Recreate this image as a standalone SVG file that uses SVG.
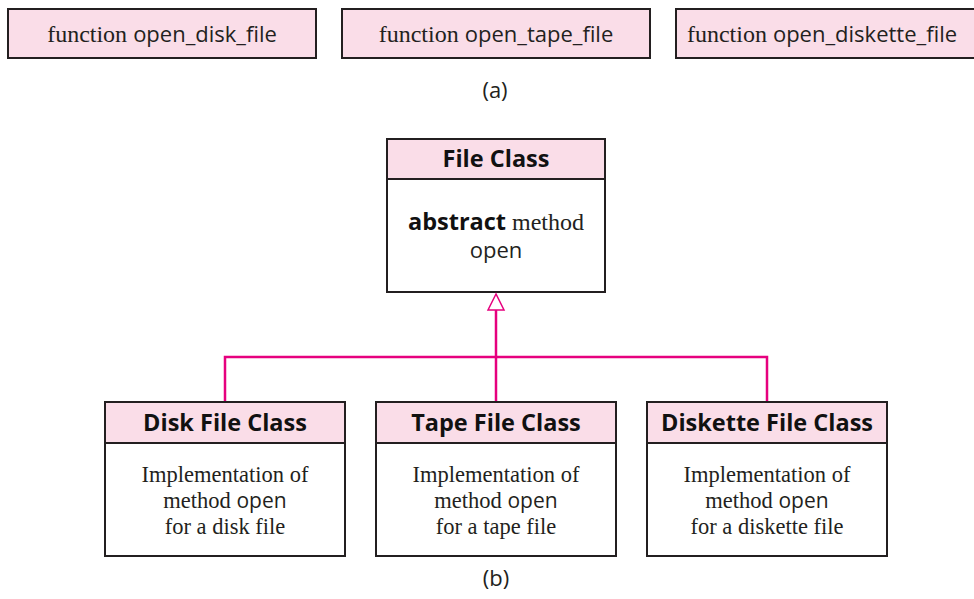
<svg xmlns="http://www.w3.org/2000/svg" width="974" height="599" viewBox="0 0 974 599">
<style>
.box{fill:#fadde8;stroke:#231f20;stroke-width:2}
.body{fill:#fff;stroke:#231f20;stroke-width:2}
.serif{font-family:"Liberation Serif","Times New Roman",serif;font-size:24px;fill:#231f20}
.bserif{font-family:"Liberation Serif","Times New Roman",serif;font-size:22.5px;fill:#231f20}
.sans{font-family:"Open Sans","Liberation Sans",sans-serif;font-size:22px;fill:#231f20}
.bsans{font-family:"Open Sans","Liberation Sans",sans-serif;font-size:21px;fill:#231f20}
.hdr{font-family:"Open Sans","Liberation Sans",sans-serif;font-size:23.5px;font-weight:bold;fill:#111}
.conn{fill:none;stroke:#e6007e;stroke-width:2.5}
</style>
<g id="fn-disk">
<rect class="box" x="8" y="9" width="308" height="49"/>
<text x="162" y="42" text-anchor="middle"><tspan class="serif">function </tspan><tspan class="sans">open_disk_file</tspan></text>
</g>
<g id="fn-tape">
<rect class="box" x="342" y="9" width="308" height="49"/>
<text x="496" y="42" text-anchor="middle"><tspan class="serif">function </tspan><tspan class="sans">open_tape_file</tspan></text>
</g>
<g id="fn-diskette">
<rect class="box" x="676" y="9" width="308" height="49"/>
<text x="822" y="42" text-anchor="middle"><tspan class="serif">function </tspan><tspan class="sans">open_diskette_file</tspan></text>
</g>
<text class="sans" x="495" y="98" text-anchor="middle">(a)</text>
<g id="file-class">
<rect class="body" x="387" y="139" width="218" height="153"/>
<rect class="box" x="387" y="139" width="218" height="40"/>
<text class="hdr" x="496" y="167" text-anchor="middle">File Class</text>
<text x="496" y="230" text-anchor="middle"><tspan class="hdr">abstract</tspan><tspan class="serif"> method</tspan></text>
<text class="sans" x="496" y="258" text-anchor="middle">open</text>
</g>
<g id="connectors">
<polyline class="conn" points="225,402 225,357 767,357 767,402"/>
<line class="conn" x1="496" y1="402" x2="496" y2="309"/>
<polygon points="496,294 488,310 504,310" fill="#fff" stroke="#e6007e" stroke-width="1.5"/>
</g>
<g id="disk-class">
<rect class="body" x="105" y="402" width="240" height="154"/>
<rect class="box" x="105" y="402" width="240" height="41"/>
<text class="hdr" x="225" y="431" text-anchor="middle">Disk File Class</text>
<text class="bserif" x="225" y="482" text-anchor="middle">Implementation of</text>
<text x="225" y="508" text-anchor="middle"><tspan class="bserif">method </tspan><tspan class="bsans">open</tspan></text>
<text class="bserif" x="225" y="534" text-anchor="middle">for a disk file</text>
</g>
<g id="tape-class">
<rect class="body" x="376" y="402" width="240" height="154"/>
<rect class="box" x="376" y="402" width="240" height="41"/>
<text class="hdr" x="496" y="431" text-anchor="middle">Tape File Class</text>
<text class="bserif" x="496" y="482" text-anchor="middle">Implementation of</text>
<text x="496" y="508" text-anchor="middle"><tspan class="bserif">method </tspan><tspan class="bsans">open</tspan></text>
<text class="bserif" x="496" y="534" text-anchor="middle">for a tape file</text>
</g>
<g id="diskette-class">
<rect class="body" x="647" y="402" width="240" height="154"/>
<rect class="box" x="647" y="402" width="240" height="41"/>
<text class="hdr" x="767" y="431" text-anchor="middle">Diskette File Class</text>
<text class="bserif" x="767" y="482" text-anchor="middle">Implementation of</text>
<text x="767" y="508" text-anchor="middle"><tspan class="bserif">method </tspan><tspan class="bsans">open</tspan></text>
<text class="bserif" x="767" y="534" text-anchor="middle">for a diskette file</text>
</g>
<text class="sans" x="496" y="586" text-anchor="middle">(b)</text>
</svg>
